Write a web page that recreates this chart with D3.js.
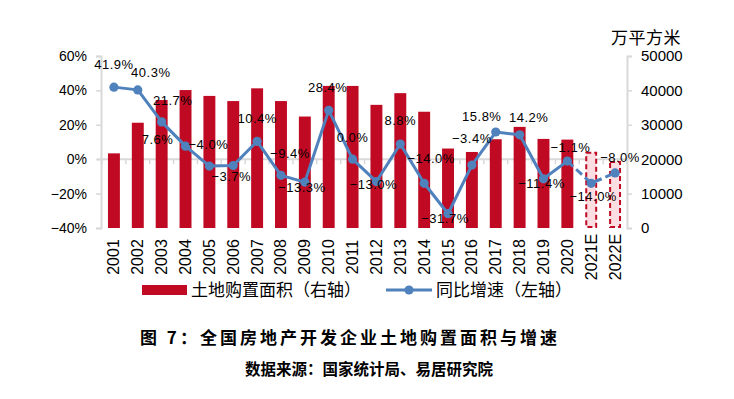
<!DOCTYPE html>
<html>
<head>
<meta charset="utf-8">
<script src="https://cdn.jsdelivr.net/npm/d3@7"></script>
<style>
  body { margin: 0; background: #fff; }
  text { font-family: "Liberation Sans", "Noto Sans CJK SC", sans-serif; fill: #000; }
</style>
</head>
<body>
<div id="chart-area"></div>
<script>
// data
const years = ['2001','2002','2003','2004','2005','2006','2007','2008','2009','2010','2011',
	'2012','2013','2014','2015','2016','2017','2018','2019','2020','2021E','2022E'];
const landArea = [21700, 30600, 37200, 40100, 38400, 36900, 40600, 36900, 32400, 41300, 41300,
	35800, 39200, 33800, 23100, 22100, 25800, 29400, 25900, 25700, 21900, 19200];
const growth = [41.9, 40.3, 21.7, 7.6, -4.0, -3.7, 10.4, -9.4, -13.3, 28.4, 0.0,
	-13.0, 8.8, -14.0, -31.7, -3.4, 15.8, 14.2, -11.4, -1.1, -14.0, -8.0];
const estimated = ['2021E', '2022E'];
const leftTicks = [-40, -20, 0, 20, 40, 60];
const rightTicks = [0, 10000, 20000, 30000, 40000, 50000];

// label nudges (dx, dy from the point)
const labelOffsets = [[0,-23],[13,-17],[11,-21],[-28,-7],[-1,-22],[-2,11],[0,-23],[9,-22],[-3,5],
	[-1,-23],[0,-22],[-3,3],[0,-24],[7,-25],[-3,5],[0,-27],[-14,-16],[9,-17],[-2,5],[3,-14],[2,13],[5,-15]];

const width = 734, height = 399;
const red = '#C00A23', blue = '#4F81BD', grey = '#D9D9D9';

const svg = d3.select('#chart-area')
	.append('svg')
		.attr('width', width)
		.attr('height', height);

const plot = { left: 102, right: 627, top: 56, bottom: 228 };

const xScale = d3.scaleBand()
	.domain(years)
	.range([plot.left, plot.right])
	.paddingInner(0.5)
	.paddingOuter(0.25);
const step = xScale.step();
const cx = d => xScale(d) + xScale.bandwidth() / 2;

const yLeft = d3.scaleLinear().domain([-40, 60]).range([plot.bottom, plot.top]);
const yRight = d3.scaleLinear().domain([0, 50000]).range([plot.bottom, plot.top]);

// AXES
const leftAxis = svg.append('g')
	.attr('transform', `translate(${plot.left - 1},0)`)
	.call(d3.axisLeft(yLeft).tickValues(leftTicks).tickSize(5).tickPadding(9).tickFormat(d => d3.format('d')(d) + '%'));
leftAxis.selectAll('text').attr('font-size', 14).attr('fill', '#000');

const rightAxis = svg.append('g')
	.attr('transform', `translate(${plot.right},0)`)
	.call(d3.axisRight(yRight).tickValues(rightTicks).tickSize(5).tickPadding(9).tickFormat(d3.format('d')));
rightAxis.selectAll('text').attr('font-size', 15).attr('fill', '#000');

[leftAxis, rightAxis].forEach(a => {
	a.select('.domain').attr('stroke', grey).attr('stroke-width', 2);
	a.selectAll('.tick line').attr('stroke', grey).attr('stroke-width', 1.5);
	a.selectAll('text').style('font-family', '"Liberation Sans", sans-serif');
});

// zero line with category ticks
const zeroY = yLeft(0);
svg.append('line')
	.attr('x1', plot.left - 5).attr('x2', plot.right)
	.attr('y1', zeroY).attr('y2', zeroY)
	.attr('stroke', grey).attr('stroke-width', 2);
svg.append('g').selectAll('line')
	.data(d3.range(years.length + 1))
	.join('line')
		.attr('x1', i => plot.left + i * step)
		.attr('x2', i => plot.left + i * step)
		.attr('y1', zeroY).attr('y2', zeroY + 5)
		.attr('stroke', grey).attr('stroke-width', 1.5);

// BARS
const isEst = d => estimated.includes(d);
svg.append('g').selectAll('rect')
	.data(years)
	.join('rect')
		.attr('x', (d, i) => isEst(d) ? xScale(d) + 1 : xScale(d))
		.attr('width', d => isEst(d) ? xScale.bandwidth() - 2 : xScale.bandwidth())
		.attr('y', (d, i) => yRight(landArea[i]))
		.attr('height', (d, i) => plot.bottom - yRight(landArea[i]) - (isEst(d) ? 1 : 0))
		.attr('fill', d => isEst(d) ? '#FCDDE1' : red)
		.attr('stroke', d => isEst(d) ? red : 'none')
		.attr('stroke-width', 2)
		.attr('stroke-dasharray', '5,3');

// LINE
const pts = years.map((d, i) => [cx(d), yLeft(growth[i])]);
const solidEnd = years.indexOf('2020');
svg.append('path')
	.attr('d', d3.line()(pts.slice(0, solidEnd + 1)))
	.attr('fill', 'none')
	.attr('stroke', blue)
	.attr('stroke-width', 3)
	.attr('stroke-linejoin', 'round');
svg.append('path')
	.attr('d', d3.line()(pts.slice(solidEnd)))
	.attr('fill', 'none')
	.attr('stroke', blue)
	.attr('stroke-width', 3)
	.attr('stroke-dasharray', '8,4');
svg.append('g').selectAll('circle')
	.data(pts)
	.join('circle')
		.attr('cx', d => d[0])
		.attr('cy', d => d[1])
		.attr('r', 4.6)
		.attr('fill', blue);

// DATA LABELS
const pctFmt = d3.format('.1f');
svg.append('g').selectAll('text')
	.data(years)
	.join('text')
		.attr('x', (d, i) => pts[i][0] + labelOffsets[i][0])
		.attr('y', (d, i) => pts[i][1] + labelOffsets[i][1])
		.attr('text-anchor', 'middle')
		.attr('dominant-baseline', 'central')
		.attr('font-size', 13)
		.attr('letter-spacing', 0.5)
		.text((d, i) => pctFmt(growth[i]) + '%');

// YEAR LABELS
svg.append('g').selectAll('text')
	.data(years)
	.join('text')
		.attr('transform', d => `translate(${cx(d)},257) rotate(-90)`)
		.attr('text-anchor', 'middle')
		.attr('dominant-baseline', 'central')
		.attr('font-size', 16)
		.text(d => d);

// unit
svg.append('text')
	.attr('x', 611).attr('y', 36)
	.attr('dominant-baseline', 'central')
	.attr('font-size', 17)
	.attr('letter-spacing', 0.5)
	.style('font-family', '"Noto Sans CJK SC", sans-serif')
	.text('万平方米');

// LEGEND
const legend = svg.append('g').style('font-family', '"Noto Sans CJK SC", sans-serif');
legend.append('rect')
	.attr('x', 142).attr('y', 285).attr('width', 45).attr('height', 10)
	.attr('fill', red);
legend.append('text')
	.attr('x', 191).attr('y', 290)
	.attr('dominant-baseline', 'central')
	.attr('font-size', 17)
	.text('土地购置面积（右轴）');
legend.append('line')
	.attr('x1', 386).attr('x2', 432).attr('y1', 290).attr('y2', 290)
	.attr('stroke', blue).attr('stroke-width', 3);
legend.append('circle')
	.attr('cx', 409).attr('cy', 290).attr('r', 4.6).attr('fill', blue);
legend.append('text')
	.attr('x', 436).attr('y', 290)
	.attr('dominant-baseline', 'central')
	.attr('font-size', 17)
	.text('同比增速（左轴）');

// TITLE
svg.append('text')
	.attr('x', 140).attr('y', 336)
	.attr('dominant-baseline', 'central')
	.attr('font-size', 17)
	.attr('font-weight', 'bold')
	.attr('letter-spacing', 3)
	.style('font-family', '"Noto Sans CJK SC", sans-serif')
	.text('图 7：全国房地产开发企业土地购置面积与增速');

svg.append('text')
	.attr('x', 369).attr('y', 368)
	.attr('text-anchor', 'middle')
	.attr('dominant-baseline', 'central')
	.attr('font-size', 15.5)
	.attr('font-weight', 'bold')
	.style('font-family', '"Noto Sans CJK SC", sans-serif')
	.text('数据来源：国家统计局、易居研究院');
</script>
</body>
</html>
